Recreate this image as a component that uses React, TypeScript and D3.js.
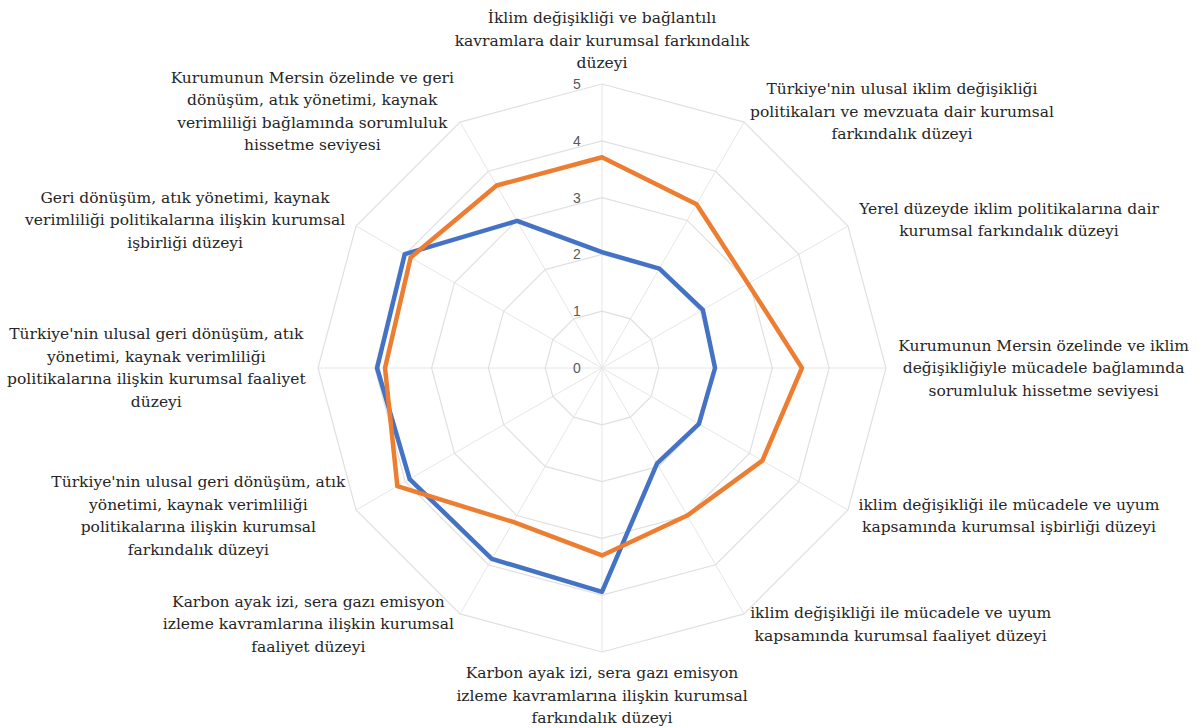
import React, { useEffect, useRef } from "react";
import * as d3 from "d3";

const categories: string[][] = [
  ["İklim değişikliği ve bağlantılı", "kavramlara dair kurumsal farkındalık", "düzeyi"],
  ["Türkiye'nin ulusal iklim değişikliği", "politikaları ve mevzuata dair kurumsal", "farkındalık düzeyi"],
  ["Yerel düzeyde iklim politikalarına dair", "kurumsal farkındalık düzeyi"],
  ["Kurumunun Mersin özelinde ve iklim", "değişikliğiyle mücadele bağlamında", "sorumluluk hissetme seviyesi"],
  ["iklim değişikliği ile mücadele ve uyum", "kapsamında kurumsal işbirliği düzeyi"],
  ["iklim değişikliği ile mücadele ve uyum", "kapsamında kurumsal faaliyet düzeyi"],
  ["Karbon ayak izi, sera gazı emisyon", "izleme kavramlarına ilişkin kurumsal", "farkındalık düzeyi"],
  ["Karbon ayak izi, sera gazı emisyon", "izleme kavramlarına ilişkin kurumsal", "faaliyet düzeyi"],
  ["Türkiye'nin ulusal geri dönüşüm, atık", "yönetimi, kaynak verimliliği", "politikalarına ilişkin kurumsal", "farkındalık düzeyi"],
  ["Türkiye'nin ulusal geri dönüşüm, atık", "yönetimi, kaynak verimliliği", "politikalarına ilişkin kurumsal faaliyet", "düzeyi"],
  ["Geri dönüşüm, atık yönetimi, kaynak", "verimliliği politikalarına ilişkin kurumsal", "işbirliği düzeyi"],
  ["Kurumunun Mersin özelinde ve geri", "dönüşüm, atık yönetimi, kaynak", "verimliliği bağlamında sorumluluk", "hissetme seviyesi"],
];

const seriesBlue: number[] = [2.04, 2.02, 2.05, 1.99, 1.97, 1.94, 3.94, 3.88, 3.91, 3.96, 4.01, 2.99];
const seriesOrange: number[] = [3.71, 3.33, 2.97, 3.52, 3.26, 3.0, 3.3, 3.13, 4.16, 3.82, 3.89, 3.71];
const tickValues: number[] = [0, 1, 2, 3, 4, 5];

export default function App() {
  const ref = useRef<SVGSVGElement>(null);

  useEffect(() => {
    const svg = d3.select(ref.current);
    svg.selectAll("*").remove();
    const W = 1202, H = 728;
    const cx = 602, cy = 368, R = 284;
    const n = categories.length;
    const r = d3.scaleLinear().domain([0, 5]).range([0, R]);
    const angle = d3.scaleLinear().domain([0, n]).range([0, 2 * Math.PI]);

    svg.append("rect").attr("width", W).attr("height", H).attr("fill", "#ffffff");
    const g = svg.append("g").attr("transform", `translate(${cx},${cy})`);

    // spokes
    g.selectAll("line.spoke")
      .data(d3.range(n))
      .join("line")
      .attr("x1", 0).attr("y1", 0)
      .attr("x2", (i) => r(5) * Math.sin(angle(i)))
      .attr("y2", (i) => -r(5) * Math.cos(angle(i)))
      .attr("stroke", "#e6e6e6").attr("stroke-width", 1);

    // rings
    const ring = d3.lineRadial<number>()
      .angle((_, i) => angle(i))
      .radius((d) => r(d))
      .curve(d3.curveLinearClosed);
    tickValues.slice(1).forEach((t) => {
      g.append("path")
        .attr("d", ring(d3.range(n).map(() => t)) as string)
        .attr("fill", "none").attr("stroke", "#e0e0e0").attr("stroke-width", 1.2);
    });

    // series
    const line = d3.lineRadial<number>()
      .angle((_, i) => angle(i))
      .radius((d) => r(d))
      .curve(d3.curveLinearClosed);
    [[seriesBlue, "#4472C4"], [seriesOrange, "#ED7D31"]].forEach(([vals, col]) => {
      g.append("path")
        .attr("d", line(vals as number[]) as string)
        .attr("fill", "none").attr("stroke", col as string)
        .attr("stroke-width", 4.5).attr("stroke-linejoin", "round");
    });

    // tick labels
    g.selectAll("text.tick")
      .data(tickValues)
      .join("text")
      .attr("x", -25).attr("y", (d) => -r(d))
      .attr("dy", "0.35em")
      .attr("text-anchor", "middle")
      .style("font-family", "'Liberation Sans', Arial, sans-serif")
      .style("font-size", "14px")
      .attr("fill", "#595959")
      .text((d) => String(d));

    // category labels
    const lh = 22.5;
    const pad = 12;
    categories.forEach((lines, i) => {
      const a = angle(i);
      const s = Math.sin(a), c = Math.cos(a);
      const ax = (R + pad) * s, ay = -(R + pad) * c;
      const t = g.append("text")
        .style("font-family", "'DejaVu Serif', 'Liberation Serif', serif")
        .style("font-size", "15.5px")
        .attr("fill", "#262626")
        .attr("text-anchor", "middle");
      lines.forEach((ln, k) => {
        t.append("tspan").attr("x", 0).attr("y", k * lh).text(ln);
      });
      const bb = (t.node() as SVGTextElement).getBBox();
      let tx: number;
      if (Math.abs(s) < 0.01) tx = ax;
      else if (s > 0) tx = ax + bb.width / 2;
      else tx = ax - bb.width / 2;
      let ty: number;
      if (Math.abs(s) < 0.01 && c > 0) ty = ay - (bb.y + bb.height);
      else if (Math.abs(s) < 0.01 && c < 0) ty = ay - bb.y;
      else ty = ay - (bb.y + bb.height / 2);
      t.attr("transform", `translate(${tx},${ty})`);
    });
  }, []);

  return (
    <svg
      ref={ref}
      width={1202}
      height={728}
      style={{ position: "absolute", left: 0, top: 0, display: "block" }}
    />
  );
}
